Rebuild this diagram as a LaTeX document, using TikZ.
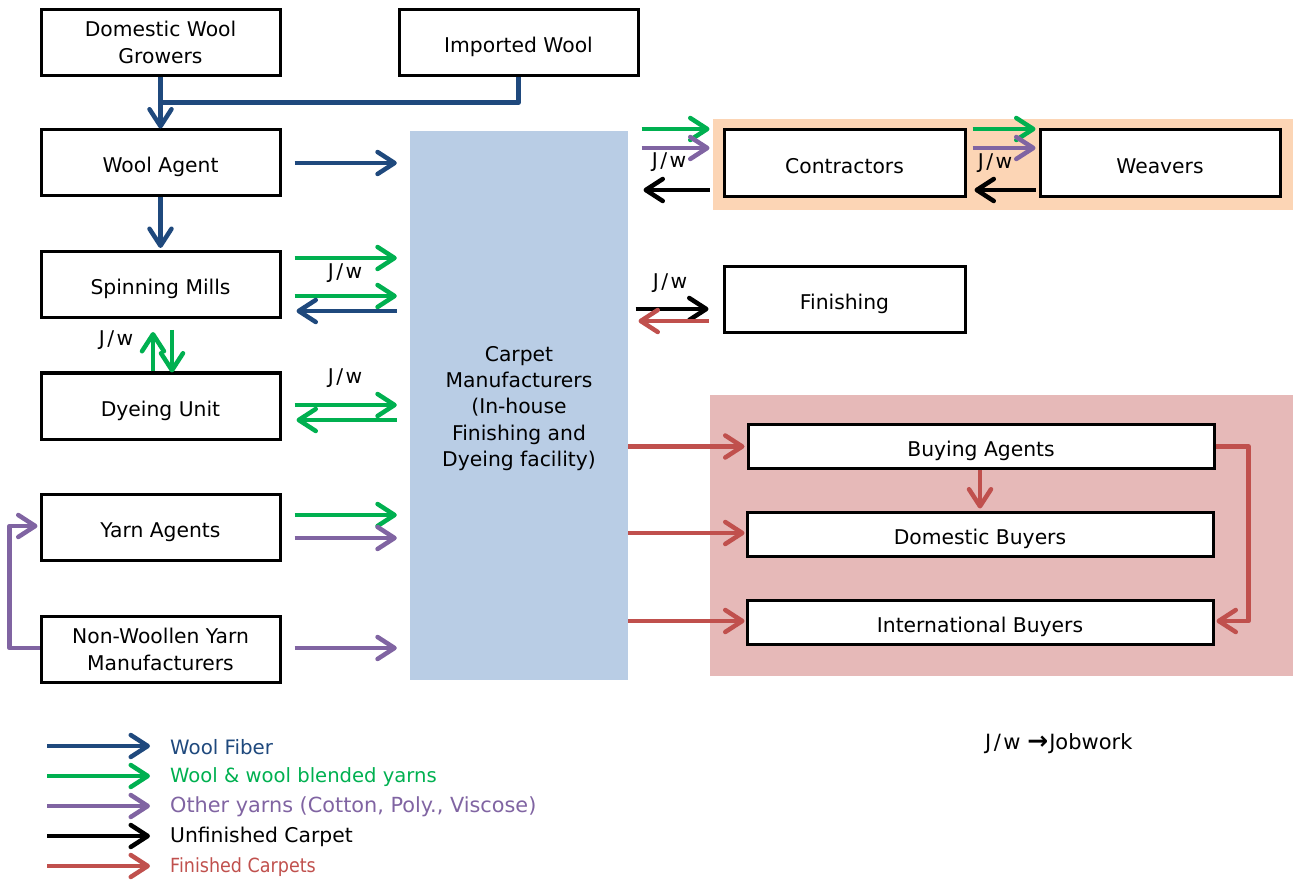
\documentclass[tikz,border=0pt]{standalone}
\usepackage{fontspec}
\setmainfont{DejaVu Sans}
\newfontfamily\narrowfont[FakeStretch=0.9]{DejaVu Sans}
\usetikzlibrary{arrows.meta,calc}
\definecolor{woolblue}{RGB}{31,73,125}
\definecolor{yarngreen}{RGB}{0,176,80}
\definecolor{otherpurple}{RGB}{128,100,162}
\definecolor{finred}{RGB}{192,80,77}
\definecolor{cmblue}{RGB}{185,205,229}
\definecolor{orangeband}{RGB}{252,213,181}
\definecolor{pinkband}{RGB}{230,185,184}
\tikzset{
  stage/.style={draw=black, line width=3pt, fill=white, minimum width=239pt,
    minimum height=66pt, inner sep=0pt, align=center},
  oneline/.style={stage, text height=24pt, text depth=4pt},
  wide/.style={oneline, minimum width=466pt, minimum height=44pt},
  flow/.style={line width=4.5pt, line join=round,
    -{Straight Barb[length=17pt,width=22pt,line cap=round,line join=round]}},
  wool/.style={flow, draw=woolblue},
  yarn/.style={flow, draw=yarngreen},
  other/.style={flow, draw=otherpurple},
  unfin/.style={flow, draw=black},
  fin/.style={flow, draw=finred},
  jw/.style={inner sep=0pt},
  legtext/.style={anchor=west, inner sep=0pt}
}
\newcommand{\jwtext}{J\kern2.5pt/\kern2.5pt w}
\begin{document}
\begin{tikzpicture}[x=1pt, y=-1pt, font=\fontsize{20.3}{27}\selectfont]
\useasboundingbox (0,0) rectangle (1298,882);

% shaded groups
\fill[orangeband] (713,119) rectangle (1293,210);
\fill[pinkband] (710,395) rectangle (1293,676);

% central manufacturer block
\node[fill=cmblue, minimum width=218pt, minimum height=549pt, inner sep=0pt] (cm) at (519,405.5) {};
\node[align=center, inner sep=0pt, font=\fontsize{20.3}{26.2}\selectfont]
  (cmtext) at ($(cm.center)+(0,3)$)
  {Carpet\\Manufacturers\\(In-house\\Finishing and\\Dyeing facility)};

% left column
\node[stage] (dwg) at (160.5,42.5) {Domestic Wool\\Growers};
\node[oneline] (iw)  at (518.5,42.5) {Imported Wool};
\node[oneline] (wa)  at (160.5,163) {Wool Agent};
\node[oneline] (sm)  at (160.5,284.5) {Spinning Mills};
\node[oneline] (du)  at (160.5,406) {Dyeing Unit};
\node[oneline] (ya)  at (160.5,527) {Yarn Agents};
\node[stage] (nw)  at (160.5,649) {Non-Woollen Yarn\\Manufacturers};

% right column
\node[oneline, minimum width=241pt, minimum height=67pt] (con) at (844.5,163.5) {Contractors};
\node[oneline, minimum width=240pt, minimum height=67pt] (wv)  at (1160,163.5) {Weavers};
\node[oneline, minimum width=241pt] (fn)  at (844.5,300) {Finishing};
\node[wide] (ba) at (981,446.5) {Buying Agents};
\node[wide] (db) at (980,534) {Domestic Buyers};
\node[wide] (ib) at (980,622) {International Buyers};

% wool fibre supply
\draw[wool] (dwg.south) -- (wa.north);
\draw[wool, -] (iw.south) |- ($(dwg.south)!0.5!(wa.north)$);
\draw[wool] ($(wa.east)+(13,0)$) -- ($(wa.east -| cm.west)+(-13,0)$);
\draw[wool] (wa.south) -- ($(sm.north)+(0,-2)$);

% spinning mills
\draw[yarn] ($(sm.east)+(13,-26.5)$) -- ($(sm.east -| cm.west)+(-13,-26.5)$);
\node[jw] (jw1) at (345,273) {\jwtext};
\draw[yarn] ($(sm.east)+(13,11.5)$) -- ($(sm.east -| cm.west)+(-13,11.5)$);
\draw[wool] ($(sm.east -| cm.west)+(-13,26.5)$) -- ($(sm.east)+(15,26.5)$);

% spinning mills <-> dyeing unit
\draw[yarn] ($(du.north)+(-7.5,0)$) -- ($(sm.south)+(-7.5,13)$);
\draw[yarn] ($(sm.south)+(11.5,11)$) -- ($(du.north)+(11.5,1)$);
\node[jw] (jw2) at (116,340) {\jwtext};

% dyeing unit
\node[jw] (jw3) at (345,378) {\jwtext};
\draw[yarn] ($(du.east)+(13,-1)$) -- ($(du.east -| cm.west)+(-13,-1)$);
\draw[yarn] ($(du.east -| cm.west)+(-13,14)$) -- ($(du.east)+(15,14)$);

% yarn agents and non-woollen yarn
\draw[yarn] ($(ya.east)+(13,-12)$) -- ($(ya.east -| cm.west)+(-13,-12)$);
\draw[other] ($(ya.east)+(13,11)$) -- ($(ya.east -| cm.west)+(-13,11)$);
\draw[other] ($(nw.east)+(13,-1)$) -- ($(nw.east -| cm.west)+(-13,-1)$);
\draw[other] ($(nw.west)+(0,-1)$) -- ++(-30,0) |- ($(ya.west)+(-2,-1)$);

% contractors
\draw[yarn] ($(con.west)+(-81,-34.5)$) -- ($(con.west)+(-13,-34.5)$);
\draw[other] ($(con.west)+(-81,-15.5)$) -- ($(con.west)+(-13,-15.5)$);
\node[jw] (jw4) at (669,162) {\jwtext};
\draw[unfin] ($(con.west)+(-13,26.5)$) -- ($(con.west)+(-79,26.5)$);

% weavers
\draw[yarn] ($(con.east)+(6,-34.5)$) -- ($(wv.west)+(-3,-34.5)$);
\draw[other] ($(con.east)+(6,-15.5)$) -- ($(wv.west)+(-3,-15.5)$);
\node[jw] (jw5) at (995,163) {\jwtext};
\draw[unfin] ($(wv.west)+(-3,26.5)$) -- ($(con.east)+(8,26.5)$);

% finishing
\node[jw] (jw6) at (670,283) {\jwtext};
\draw[unfin] ($(fn.west)+(-87,9)$) -- ($(fn.west)+(-14,9)$);
\draw[fin] ($(fn.west)+(-14,21)$) -- ($(fn.west)+(-84,21)$);

% finished carpets to buyers
\draw[fin] (cm.east |- ba.west) -- ($(ba.west)+(-2,0)$);
\draw[fin] ($(cm.east |- db.west)+(0,-1)$) -- ($(db.west)+(-1,-1)$);
\draw[fin] ($(cm.east |- ib.west)+(0,-1)$) -- ($(ib.west)+(-1,-1)$);
\draw[fin] ($(ba.south)+(-1,0)$) -- ($(db.north)+(0,-2)$);
\draw[fin] (ba.east) -- ++(33,0) |- ($(ib.east)+(2,-1)$);

% legend
\coordinate (l1) at (47,746);
\coordinate (l2) at (47,776);
\coordinate (l3) at (47,806);
\coordinate (l4) at (47,836);
\coordinate (l5) at (47,866);
\draw[wool]  (l1) -- ++(103,0);
\draw[yarn]  (l2) -- ++(103,0);
\draw[other] (l3) -- ++(103,0);
\draw[unfin] (l4) -- ++(103,0);
\draw[fin]   (l5) -- ++(103,0);
\node[legtext, text=woolblue, font=\fontsize{19.8}{24}\selectfont] (t1) at (170,747) {Wool Fiber};
\node[legtext, text=yarngreen, font=\fontsize{19.6}{24}\selectfont] (t2) at (170,777) {Wool \& wool blended yarns};
\node[legtext, text=otherpurple, font=\fontsize{20.8}{24}\selectfont] (t3) at (170,807) {Other yarns (Cotton, Poly., Viscose)};
\node[legtext, font=\fontsize{20.3}{24}\selectfont] (t4) at (170,837) {Unfinished Carpet};
\node[legtext, text=finred, font=\narrowfont\fontsize{19.5}{22}\selectfont] (t5) at (170,867) {Finished Carpets};

\node[legtext, font=\fontsize{21}{24}\selectfont] (jwkey) at (985,744)
  {\jwtext\ {\fontsize{25}{24}\selectfont\bfseries →}\kern1pt Jobwork};
\end{tikzpicture}
\end{document}
